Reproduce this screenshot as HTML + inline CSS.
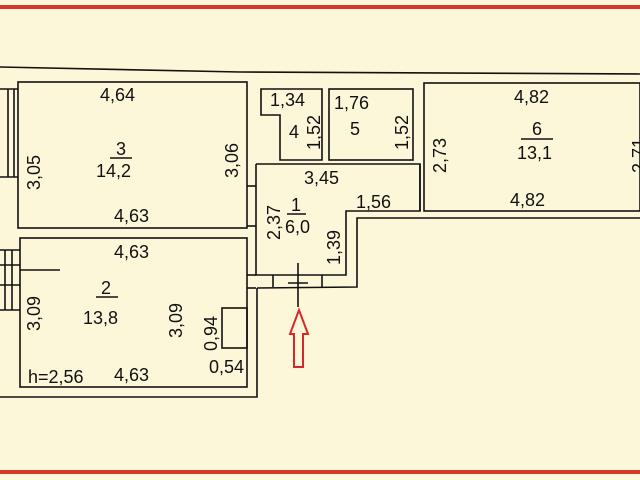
<!DOCTYPE html>
<html><head><style>
html,body{margin:0;padding:0;background:#fdf7d9;}
svg{display:block}
text{font-family:"Liberation Sans",sans-serif;font-size:18px;fill:#111;}
</style></head><body>
<svg width="640" height="480" viewBox="0 0 640 480" xmlns="http://www.w3.org/2000/svg">
<rect width="640" height="480" fill="#fdf7d9"/>
<rect x="0" y="5" width="640" height="4" fill="#d8382a"/>
<rect x="0" y="470" width="640" height="4" fill="#d8382a"/>
<g fill="none" stroke="#111" stroke-width="1.6">
<polyline points="0,67 240,72 640,74"/>
<rect x="18" y="82" width="229" height="146"/>
<rect x="20" y="238" width="227" height="149"/>
<polyline points="0,397 257,397 257,288"/>
<polyline points="257,288 357,287 357,218 640,218"/>
<polyline points="256,164 420,164 420,211 346,211 346,275 256,275 256,164"/>
<line x1="247" y1="186" x2="256" y2="186"/>
<line x1="247" y1="226" x2="256" y2="226"/>
<line x1="247" y1="275" x2="256" y2="275"/>
<line x1="247" y1="288" x2="256" y2="288"/>
<line x1="273" y1="275" x2="273" y2="287"/>
<line x1="322" y1="275" x2="322" y2="287"/>
<polygon points="261,89 322,89 322,160 280,160 280,115 261,115"/>
<rect x="329" y="89" width="84" height="71"/>
<rect x="424" y="83" width="216" height="128"/>
<line x1="420" y1="164" x2="420" y2="211"/>
<rect x="222" y="308" width="25" height="40"/>
<line x1="298" y1="263" x2="298" y2="307"/>
<line x1="288" y1="283" x2="308" y2="283"/>
<line x1="0" y1="89" x2="18" y2="89"/><line x1="0" y1="177" x2="18" y2="177"/>
<line x1="8" y1="89" x2="8" y2="177"/><line x1="14" y1="89" x2="14" y2="177"/>
<line x1="0" y1="250" x2="20" y2="250"/><line x1="0" y1="265" x2="20" y2="265"/><line x1="20" y1="270" x2="60" y2="270"/>
<line x1="0" y1="285" x2="20" y2="285"/><line x1="0" y1="310" x2="20" y2="310"/>
<line x1="5" y1="250" x2="5" y2="310"/><line x1="12" y1="250" x2="12" y2="310"/>
<line x1="110" y1="158" x2="132" y2="158"/><line x1="96" y1="297" x2="118" y2="297"/>
<line x1="287" y1="214" x2="306" y2="214"/><line x1="521" y1="139" x2="553" y2="139"/>
</g>
<polygon points="299,310 308,334 303,334 303,367 294,367 294,334 290,334" fill="none" stroke="#d8262a" stroke-width="2"/>
<text x="100" y="101">4,64</text>
<text x="116" y="155">3</text>
<text x="96" y="177">14,2</text>
<text x="114" y="222">4,63</text>
<text x="114" y="258">4,63</text>
<text x="101" y="294">2</text>
<text x="83" y="324">13,8</text>
<text x="28" y="383">h=2,56</text>
<text x="114" y="381">4,63</text>
<text x="209" y="373">0,54</text>
<text x="334" y="109">1,76</text>
<text x="350" y="135">5</text>
<text x="270" y="106">1,34</text>
<text x="289" y="138">4</text>
<text x="304" y="184">3,45</text>
<text x="291" y="211">1</text>
<text x="285" y="233">6,0</text>
<text x="356" y="208">1,56</text>
<text x="514" y="103">4,82</text>
<text x="532" y="135">6</text>
<text x="517" y="159">13,1</text>
<text x="510" y="206">4,82</text>
<g>
<text transform="translate(40,190) rotate(-90)">3,05</text>
<text transform="translate(238,178) rotate(-90)">3,06</text>
<text transform="translate(40,331) rotate(-90)">3,09</text>
<text transform="translate(182,338) rotate(-90)">3,09</text>
<text transform="translate(217,351) rotate(-90)">0,94</text>
<text transform="translate(320,150) rotate(-90)">1,52</text>
<text transform="translate(408,150) rotate(-90)">1,52</text>
<text transform="translate(280,240) rotate(-90)">2,37</text>
<text transform="translate(340,265) rotate(-90)">1,39</text>
<text transform="translate(446,173) rotate(-90)">2,73</text>
<text transform="translate(645,173) rotate(-90)">2,71</text>
</g>
</svg>
</body></html>
